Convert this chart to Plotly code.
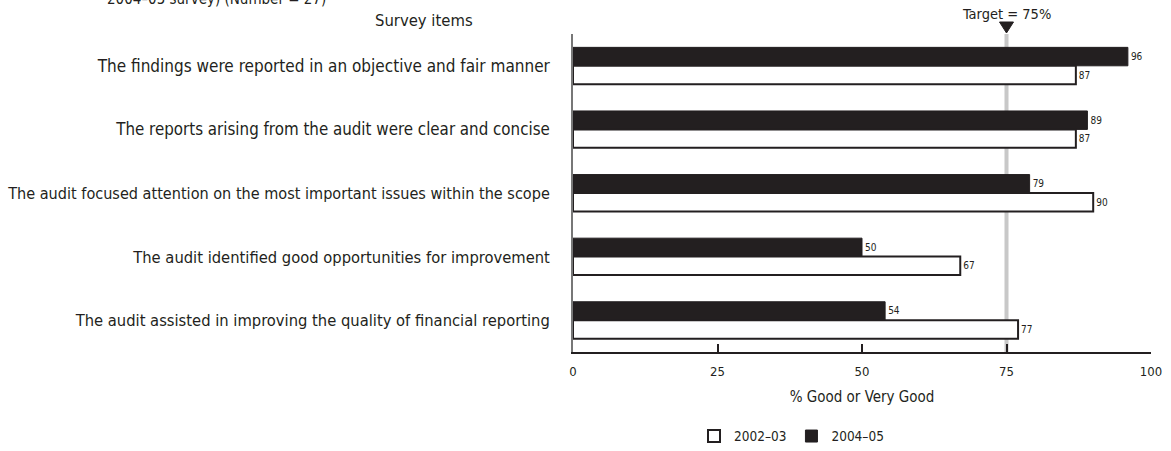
import plotly.graph_objects as go

# Survey items (top to bottom) and % Good or Very Good for each survey year
items = [
    "The findings were reported in an objective and fair manner",
    "The reports arising from the audit were clear and concise",
    "The audit focused attention on the most important issues within the scope",
    "The audit identified good opportunities for improvement",
    "The audit assisted in improving the quality of financial reporting",
]
pct_2002_03 = [87, 87, 90, 67, 77]
pct_2004_05 = [96, 89, 79, 50, 54]
target = 75
x_ticks = [0, 25, 50, 75, 100]

# per-label font sizes so each item label fits the left margin
label_sizes = [17, 16.8, 16.1, 16.4, 16.4]

FONT = "DejaVu Sans Condensed, Liberation Sans Narrow, sans-serif"
INK = "#231f20"

fig = go.Figure()

fig.add_trace(go.Bar(
    name="2004–05", y=items, x=pct_2004_05, orientation="h",
    marker=dict(color=INK, line=dict(color=INK, width=1)),
    text=pct_2004_05, textposition="outside", cliponaxis=False,
    textfont=dict(size=10, color=INK, family=FONT),
    legendrank=2,
))
fig.add_trace(go.Bar(
    name="2002–03", y=items, x=pct_2002_03, orientation="h",
    marker=dict(color="white", line=dict(color=INK, width=2)),
    text=pct_2002_03, textposition="outside", cliponaxis=False,
    textfont=dict(size=10, color=INK, family=FONT),
    legendrank=1,
))

# Target reference line with a downward marker above the plot
fig.add_shape(type="line", xref="x", yref="paper", x0=target, x1=target,
              y0=0, y1=1, line=dict(color="#c8c8c8", width=4), layer="below")
fig.add_shape(type="path", xref="x", yref="paper", xsizemode="pixel",
              ysizemode="pixel", xanchor=target, yanchor=1,
              path="M -7 12 L 7 12 L 0 1 Z", fillcolor=INK,
              line=dict(color=INK, width=1))
fig.add_annotation(x=target, xref="x", y=1, yref="paper", yshift=20,
                   yanchor="middle", text="Target = 75%", showarrow=False,
                   font=dict(size=14.5, color=INK, family=FONT))

fig.add_annotation(x=(475 - 573) / 578, xref="paper", y=1, yref="paper",
                   yshift=14, xanchor="right", yanchor="middle",
                   text="Survey items", showarrow=False,
                   font=dict(size=16.5, color=INK, family=FONT))

fig.add_annotation(x=(105 - 573) / 578, xref="paper", y=1, yref="paper",
                   yshift=35, xanchor="left", yanchor="middle",
                   text="2004–05 survey) (Number = 27)", showarrow=False,
                   font=dict(size=15, color=INK, family=FONT))

tick_text = [f"<span style='font-size:{s}px'>{t}</span>"
             for t, s in zip(items, label_sizes)]

fig.update_layout(
    width=1171, height=451,
    margin=dict(l=573, r=20, t=34, b=99, autoexpand=False),
    paper_bgcolor="white", plot_bgcolor="white",
    barmode="group", bargap=0.42, bargroupgap=0,
    font=dict(family=FONT, color=INK),
    showlegend=True,
    legend=dict(orientation="h", x=(694 - 573) / 578, xanchor="left",
                y=-0.265, yanchor="middle", font=dict(size=13.5, family=FONT),
                itemwidth=30, traceorder="normal"),
    xaxis=dict(range=[0, 100], tickvals=x_ticks, showgrid=False,
               zeroline=False, showline=True, linecolor=INK, linewidth=2,
               ticks="inside", ticklen=8, tickwidth=2, tickcolor=INK,
               tickfont=dict(size=13, family=FONT), ticklabelstandoff=6,
               automargin=False,
               title=dict(text="% Good or Very Good", standoff=14,
                          font=dict(size=15, family=FONT))),
    yaxis=dict(autorange="reversed", showgrid=False, zeroline=False,
               showline=True, linecolor="#777777", linewidth=1.5,
               ticks="", tickfont=dict(size=17, family=FONT),
               tickmode="array", tickvals=items, ticktext=tick_text,
               ticklabelstandoff=18, automargin=False),
)

fig.write_html("out.html")
